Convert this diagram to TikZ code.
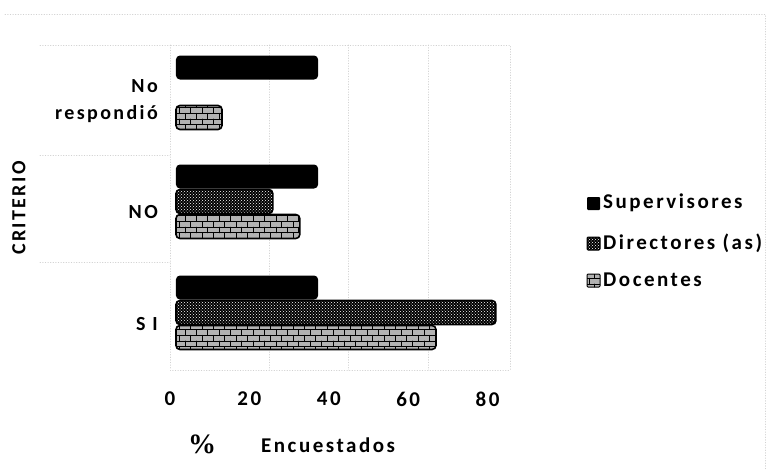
\documentclass[tikz,border=0pt]{standalone}
\usepackage{fontspec}
\setmainfont{Carlito}[BoldFont={Carlito Bold}]
\newfontfamily\chartfont{Carlito Bold}[LetterSpace=12]
\newfontfamily\pctfont{Liberation Serif Bold}
\usetikzlibrary{patterns}

\tikzset{
  faint/.style={black!18, dotted, line width=0.6pt},
  bar/.style={rounded corners=4pt},
  supbar/.style={bar, fill=black},
  dirbar/.style={bar, preaction={fill=black}, pattern=crosshatch dots, pattern color=white, draw=black, line width=1.6pt},
  docbar/.style={bar, preaction={fill=black!30}, pattern=bricks, pattern color=black, draw=black, line width=1.6pt},
  catlabel/.style={font=\chartfont\fontsize{20}{27}\selectfont, anchor=east, align=right, inner sep=0pt},
  ticklabel/.style={font=\chartfont\fontsize{21}{24}\selectfont, inner sep=0pt},
  legtext/.style={font=\chartfont\fontsize{21}{24}\selectfont, anchor=west, inner sep=0pt}
}

\begin{document}
\begin{tikzpicture}[x=1pt, y=-1pt, line cap=round]
\useasboundingbox (0,0) rectangle (768,469);
% outer frame and plot area
\draw[faint] (5,14) -- (765,14) -- (765,469);
\draw[faint] (170,45) rectangle (510,370);
\foreach \y in {45,155,262}
\draw[faint] (40,\y) -- (170,\y);
\begin{scope}[shift={(170,0)}, x=3.97pt]
\foreach \v in {25,45,65}
\draw[faint] (\v,45) -- (\v,370);
% bars: centre / end / style
\foreach \y/\v/\kind in
{67.5/37.3/supbar, 117.5/13.1/docbar,
176.5/37.3/supbar, 201.5/25.9/dirbar, 226.5/32.7/docbar,
287.5/37.3/supbar, 312.5/82.1/dirbar, 337.5/67.0/docbar}
\path[\kind] (1.5,\y-12) rectangle (\v,\y+12);
% axis numbers
\foreach \v in {0,20,40,60,80}
\node[ticklabel] (t\v) at (\v,399) {\v};
\end{scope}
% category labels
\node[catlabel] (nr) at (158,101) {No\\respondió};
\node[catlabel] (no) at (158,212) {NO};
\node[catlabel] (si) at (158,324) {S I};
\node[font=\chartfont\fontsize{20}{22}\selectfont, rotate=90] (crit) at (19,208) {CRITERIO};
% axis title
\node[font=\pctfont\fontsize{28}{30}\selectfont] (pct) at (202,444) {\%};
\node[font=\chartfont\fontsize{21}{24}\selectfont, anchor=west, inner sep=0pt] (enc) at (261,445) {Encuestados};
% legend
\path[supbar, rounded corners=1pt] (587,197) rectangle (600,210);
\path[dirbar, rounded corners=1pt, line width=1pt] (587,237) rectangle (600,250);
\path[docbar, rounded corners=1pt, line width=1pt] (587,274) rectangle (600,287);
\node[legtext] (lsup) at (603,203) {Supervisores};
\node[legtext] (ldir) at (603,243) {Directores (as)};
\node[legtext] (ldoc) at (603,280) {Docentes};
\end{tikzpicture}
\end{document}
